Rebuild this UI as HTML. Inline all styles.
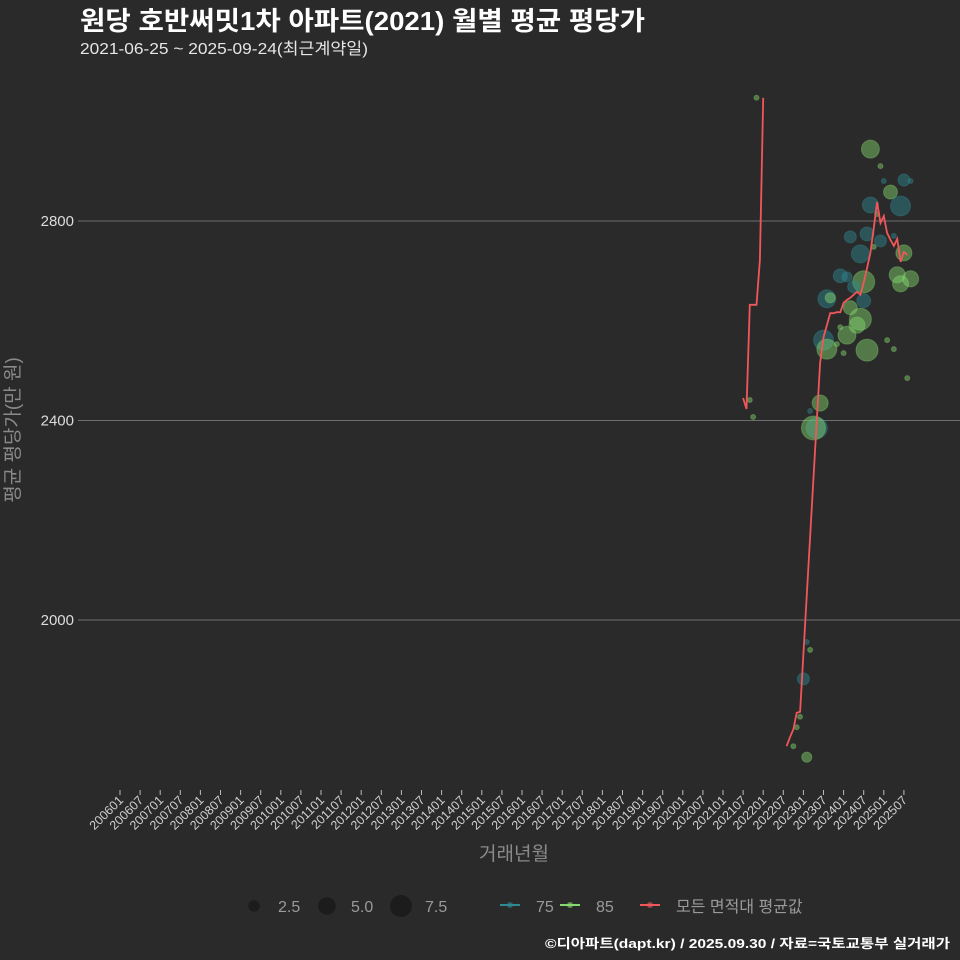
<!DOCTYPE html>
<html><head><meta charset="utf-8">
<style>
html,body{margin:0;padding:0;background:#2b2a2b;}
svg{display:block;font-family:"Liberation Sans","Noto Sans CJK KR",sans-serif;}
</style></head>
<body>
<svg id="chart" width="960" height="960" viewBox="0 0 960 960">
<rect x="0" y="0" width="960" height="960" fill="#2b2a2b"/>
<text x="80" y="30" fill="#ffffff" font-size="26" font-weight="bold" textLength="565" lengthAdjust="spacingAndGlyphs">원당 호반써밋1차 아파트(2021) 월별 평균 평당가</text>
<text x="80" y="54" fill="#e6e6e6" font-size="16" textLength="288" lengthAdjust="spacingAndGlyphs">2021-06-25 ~ 2025-09-24(최근계약일)</text>
<g id="grid"></g>
<g id="xaxis"></g>
<g id="yaxis"></g>
<g id="dots"></g>
<g id="lines"></g>
<text x="514" y="860" fill="#8a8a8a" font-size="19" text-anchor="middle">거래년월</text>
<text transform="translate(19,430) rotate(-90)" fill="#8a8a8a" font-size="19" text-anchor="middle">평균 평당가(만 원)</text>
<g id="legend"></g>
<text x="545" y="948" fill="#ffffff" font-size="13" font-weight="bold" textLength="405" lengthAdjust="spacingAndGlyphs">©디아파트(dapt.kr) / 2025.09.30 / 자료=국토교통부 실거래가</text>
</svg>
<script>
const yTicks = [2000, 2400, 2800];
const lineMonths = ["2021-07","2021-08","2021-09","2021-10","2021-11","2021-12","2022-01",
"2022-08","2022-09","2022-10","2022-11","2022-12","2023-05","2023-06","2023-07","2023-08","2023-09","2023-10","2023-11","2023-12",
"2024-01","2024-02","2024-03","2024-04","2024-05","2024-06","2024-07","2024-08","2024-09","2024-10","2024-11","2024-12",
"2025-01","2025-02","2025-03","2025-04","2025-05","2025-06","2025-07","2025-08"];
const lineValues = [2445,2423,2632,2632,2632,2722,3047,
1747,1765,1781,1814,1816,2401,2515,2567,2591,2615,2615,2617,2617,
2636,2642,2646,2652,2658,2652,2676,2706,2736,2786,2838,2796,
2810,2776,2762,2750,2764,2718,2738,2732];
const lineBreakAfter = ["2022-01"];
const dotMonths = ["2021-11","2024-09","2024-12","2025-01","2025-07","2025-09","2025-03","2024-09","2025-06","2024-11",
"2024-03","2024-08","2024-12","2025-04","2024-10","2024-06","2025-07","2023-12","2024-02","2024-07",
"2024-04","2025-05","2025-09","2025-06","2023-08","2023-09","2024-07","2024-03","2024-06","2024-05",
"2023-12","2024-02","2023-07","2023-08","2023-11","2024-01","2024-08","2025-02","2025-04","2025-08",
"2023-06","2023-03","2021-09","2021-10","2023-05","2023-04","2023-02","2023-03","2023-01","2022-12",
"2022-11","2022-10","2023-02"];
const dotValues = [3047,2944,2910,2880,2882,2880,2858,2832,2830,2814,
2768,2774,2760,2770,2748,2734,2736,2690,2688,2678,
2668,2692,2684,2674,2644,2646,2640,2626,2603,2591,
2587,2571,2561,2543,2553,2535,2541,2561,2543,2485,
2435,2419,2441,2407,2385,2385,1956,1940,1882,1806,
1785,1747,1725];
const dotCounts = [1,5.2,1,1,2.7,1,3.4,4.3,6.3,1,
2.7,3.4,2.7,1,1,5.2,4.3,3.4,2.1,7.5,
2.7,4.3,4.3,4.3,5.2,2.1,3.4,3.4,7.5,4.3,
1,5.2,6.3,6.3,1,1,7.5,1,1,1,
4.3,1,1,1,7,8.8,1,1,2.7,1,
1,1,2.1];
const dotTypes = ["85","85","85","75","75","75","85","75","75","85",
"75","75","75","75","85","75","85","75","75","85",
"75","85","85","85","75","85","75","85","85","85",
"85","85","75","85","85","85","85","85","85","85",
"85","75","85","85","75","85","75","85","75","85",
"85","85","85"];
const legendSizes = [2.5, 5.0, 7.5];

const NS = "http://www.w3.org/2000/svg";
function mk(tag, attrs, parent){const e=document.createElementNS(NS,tag);for(const k in attrs)e.setAttribute(k,attrs[k]);parent.appendChild(e);return e;}
function monthIndex(s){const p=s.split("-");return (+p[0]-2006)*12+(+p[1]-1);}
function xScale(s){return 120+monthIndex(s)*(20.1/6);}
function yScale(v){return 620-(v-2000)*0.4988;}
function rScale(c){return Math.sqrt(6.25+17.7*(c-1));}
const colors={"75":"#2e8a93","85":"#86d96f"};

const grid=document.getElementById("grid"), yax=document.getElementById("yaxis"), xax=document.getElementById("xaxis");
yTicks.forEach(t=>{
  const l=mk("line",{x1:78,x2:960,y1:yScale(t),y2:yScale(t),stroke:"#6e6e6e","stroke-width":1},grid);
  
  
  const tx=mk("text",{x:74,y:yScale(t)+5,fill:"#dcdcdc","font-size":15,"text-anchor":"end"},yax);
  tx.textContent=t;
  
  
});
for(let y=2006;y<=2025;y++){
  for(const m of ["01","07"]){
    const s=y+"-"+m, x=xScale(s);
    const tk=mk("line",{x1:x,x2:x,y1:790,y2:795,stroke:"#bbbbbb","stroke-width":1},xax);
    
    
    const tx=mk("text",{transform:"translate("+(x+4)+",801) rotate(-45)",fill:"#d0d0d0","font-size":12.5,"text-anchor":"end"},xax);
    tx.textContent=y+m;
    
    
  }
}
const dg=document.getElementById("dots");
dotMonths.forEach((m,i)=>{
  const c=mk("circle",{cx:xScale(m),cy:yScale(dotValues[i]),r:rScale(dotCounts[i]),fill:colors[dotTypes[i]],"fill-opacity":0.45,stroke:colors[dotTypes[i]],"stroke-opacity":0.35},dg);
  
  
});
const lg=document.getElementById("lines");
let pts=[], segs=[];
lineMonths.forEach((m,i)=>{pts.push(xScale(m).toFixed(1)+","+yScale(lineValues[i]).toFixed(1)); if(lineBreakAfter.includes(m)){segs.push(pts);pts=[];}});
segs.push(pts);
segs.forEach(s=>{
  const p=mk("polyline",{points:s.join(" "),fill:"none",stroke:"#f0575a","stroke-width":1.8},lg);
  
  
});
const leg=document.getElementById("legend");
const lx=[254,327,401];
legendSizes.forEach((s,i)=>{
  const c=mk("circle",{cx:lx[i],cy:906,r:rScale(s),fill:"#1c1c1c"},leg);
  
  
  const t=mk("text",{x:lx[i]+24,y:912,fill:"#9a9a9a","font-size":16},leg);
  t.textContent=s.toFixed(1);
  
  
});
[[500,"75","#2e8a93"],[560,"85","#86d96f"],[640,"모든 면적대 평균값","#f0575a"]].forEach(it=>{
  const g=mk("g",{},leg);
  
  
  mk("line",{x1:it[0],x2:it[0]+20,y1:905,y2:905,stroke:it[2],"stroke-width":2},g);
  mk("circle",{cx:it[0]+10,cy:905,r:3,fill:it[2],"fill-opacity":0.6},g);
  const t=mk("text",{x:it[0]+36,y:912,fill:"#9a9a9a","font-size":16},g);
  t.textContent=it[1];
});
</script>
</body></html>
